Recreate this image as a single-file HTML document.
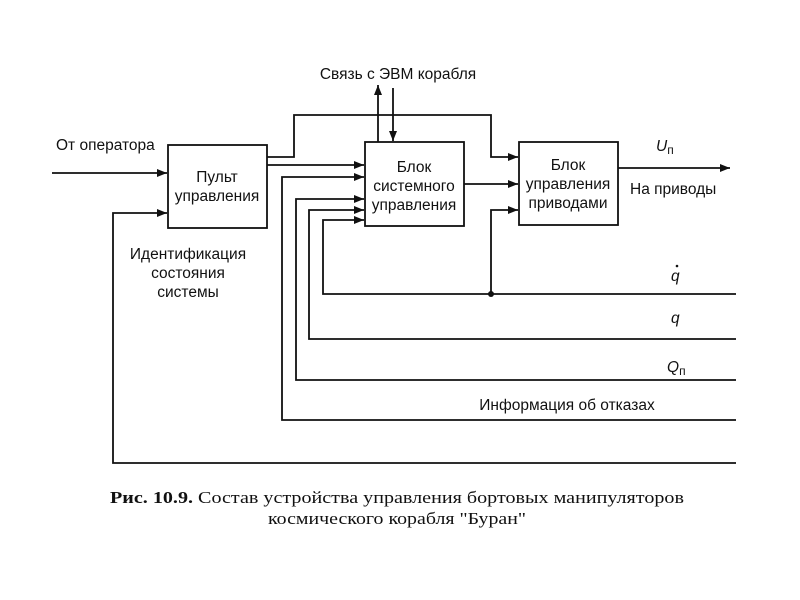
<!DOCTYPE html>
<html><head><meta charset="utf-8"><style>body{margin:0;background:#fff}svg{display:block}</style></head><body>
<svg width="800" height="600" viewBox="0 0 800 600" xmlns="http://www.w3.org/2000/svg">
<defs><marker id="a" markerWidth="10" markerHeight="8" refX="10" refY="4" orient="auto" markerUnits="userSpaceOnUse"><path d="M0,0 L10,4 L0,8 Z" fill="#111"/></marker></defs>
<g fill="none" stroke="#111" stroke-width="1.8">
<rect x="168" y="145" width="99" height="83"/>
<rect x="365" y="142" width="99" height="84"/>
<rect x="519" y="142" width="99" height="83"/>
<line x1="52" y1="173" x2="167" y2="173" marker-end="url(#a)"/>
<polyline points="736,463 113,463 113,213 167,213" marker-end="url(#a)"/>
<polyline points="267,157 294,157 294,115 491,115 491,157 518,157" marker-end="url(#a)"/>
<line x1="267" y1="165" x2="364" y2="165" marker-end="url(#a)"/>
<polyline points="736,420 282,420 282,177 364,177" marker-end="url(#a)"/>
<polyline points="736,380 296,380 296,199 364,199" marker-end="url(#a)"/>
<polyline points="736,339 309,339 309,210 364,210" marker-end="url(#a)"/>
<polyline points="736,294 323,294 323,220 364,220" marker-end="url(#a)"/>
<line x1="464" y1="184" x2="518" y2="184" marker-end="url(#a)"/>
<polyline points="491,294 491,210 518,210" marker-end="url(#a)"/>
<line x1="618" y1="168" x2="730" y2="168" marker-end="url(#a)"/>
<line x1="378" y1="142" x2="378" y2="85" marker-end="url(#a)"/>
<line x1="393" y1="88" x2="393" y2="141" marker-end="url(#a)"/>
</g>
<circle cx="491" cy="294" r="3" fill="#111"/>
<g font-family="Liberation Sans, sans-serif" font-size="15.5" fill="#111">
<text x="398" y="79" text-anchor="middle">Связь с ЭВМ корабля</text>
<text x="56" y="150">От оператора</text>
<text x="217" y="182" text-anchor="middle">Пульт</text>
<text x="217" y="201" text-anchor="middle">управления</text>
<text x="414" y="172" text-anchor="middle">Блок</text>
<text x="414" y="191" text-anchor="middle">системного</text>
<text x="414" y="210" text-anchor="middle">управления</text>
<text x="568" y="170" text-anchor="middle">Блок</text>
<text x="568" y="189" text-anchor="middle">управления</text>
<text x="568" y="208" text-anchor="middle">приводами</text>
<text x="188" y="259" text-anchor="middle">Идентификация</text>
<text x="188" y="278" text-anchor="middle">состояния</text>
<text x="188" y="297" text-anchor="middle">системы</text>
<text x="630" y="194">На приводы</text>
<text x="656" y="151" font-style="italic">U<tspan font-size="12" font-style="normal" dy="3">п</tspan></text>
<text x="671" y="281" font-style="italic">q</text>
<circle cx="677" cy="266" r="1.3" fill="#111"/>
<text x="671" y="323" font-style="italic">q</text>
<text x="667" y="372" font-style="italic">Q<tspan font-size="12" font-style="normal" dy="3">п</tspan></text>
<text x="567" y="410" text-anchor="middle">Информация об отказах</text>
</g>
<g font-family="Liberation Serif, serif" font-size="17" fill="#111">
<text x="110" y="503" textLength="574" lengthAdjust="spacingAndGlyphs"><tspan font-weight="bold">Рис. 10.9.</tspan> Состав устройства управления бортовых манипуляторов</text>
<text x="268" y="524" textLength="258" lengthAdjust="spacingAndGlyphs">космического корабля "Буран"</text>
</g>
</svg>
</body></html>
